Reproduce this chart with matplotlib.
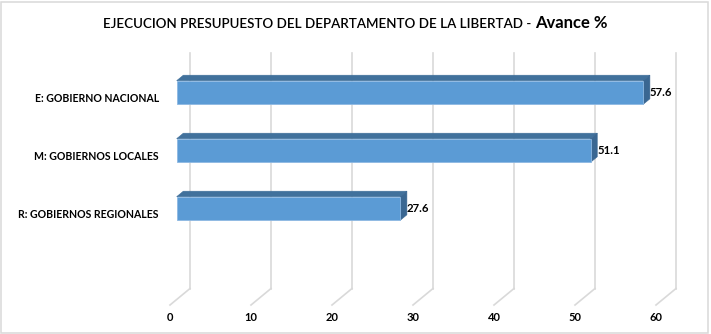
import matplotlib
matplotlib.use("Agg")
import matplotlib.pyplot as plt
from matplotlib.patches import Polygon, Rectangle

# ---- data ----
categories = ["R: GOBIERNOS REGIONALES", "M: GOBIERNOS LOCALES", "E: GOBIERNO NACIONAL"]
values = [27.6, 51.1, 57.6]
xticks = [0, 10, 20, 30, 40, 50, 60]
title_main = "EJECUCION PRESUPUESTO DEL DEPARTAMENTO DE LA LIBERTAD -"
title_bold = "Avance %"

plt.rcParams['font.family'] = ['Lato', 'DejaVu Sans']

W, H, DPI = 711, 334, 100
fig = plt.figure(figsize=(W / DPI, H / DPI), dpi=DPI)
fig.patch.set_facecolor("white")

# axes: x=0 at floor front-left, y range covers the floor-front to wall-top
ax_left, ax_bottom, ax_right, ax_top = 170, 29, 656, 265
ax = fig.add_axes([ax_left / W, ax_bottom / H, (ax_right - ax_left) / W, (ax_top - ax_bottom) / H])
ax.set_xlim(0, 60)
ylo, yhi = -1.569, 2.50
ax.set_ylim(ylo, yhi)
ax.set_facecolor("none")

px_x = (ax_right - ax_left) / 60.0
px_y = (ax_top - ax_bottom) / (yhi - ylo)
DX = 20.0 / px_x      # depth offset (data units)
DY = 16.5 / px_y
grid_c = "#D9D9D9"

# back-wall gridlines and floor diagonals
for t in xticks:
    ax.plot([t + DX, t + DX], [ylo + DY, yhi + DY], color=grid_c, lw=1.2, clip_on=False, zorder=1)
    ax.plot([t, t + DX], [ylo, ylo + DY], color=grid_c, lw=1.2, clip_on=False, zorder=1)

# 3D bars
h = 23.6 / px_y
front_c, top_c, side_c = "#5B9BD5", "#41719C", "#3A6792"
ypos = list(range(len(categories)))
for y, v in zip(ypos, values):
    d1x, d1y, d2x, d2y = DX / 3, DY / 3, 2 * DX / 3, 2 * DY / 3
    yb, yt = y - h / 2, y + h / 2
    ax.add_patch(Rectangle((d1x, yb + d1y), v, h, facecolor=front_c, edgecolor="#8DB8E2",
                           lw=0.6, clip_on=False, zorder=3))
    ax.add_patch(Polygon([(d1x, yt + d1y), (v + d1x, yt + d1y), (v + d2x, yt + d2y), (d2x, yt + d2y)],
                         closed=True, facecolor=top_c, edgecolor=top_c, lw=0.4, clip_on=False, zorder=2))
    ax.add_patch(Polygon([(v + d1x, yb + d1y), (v + d1x, yt + d1y), (v + d2x, yt + d2y), (v + d2x, yb + d2y)],
                         closed=True, facecolor=side_c, edgecolor=side_c, lw=0.4, clip_on=False, zorder=2))
    ax.text(v + d2x, y + d1y, f"{v}", ha="left", va="center", fontsize=8.2, fontweight="bold",
            color="#000000", zorder=4)

ax.set_yticks(ypos)
ax.set_yticklabels(categories, fontsize=7.6, fontweight="bold")
ax.set_xticks(xticks)
ax.set_xticklabels([str(t) for t in xticks], fontsize=8, fontweight="bold")
ax.tick_params(axis="y", length=0, pad=8)
ax.tick_params(axis="x", length=0, pad=5)
for s in ax.spines.values():
    s.set_visible(False)

# title
fig.text(531 / W, 306 / H, title_main, ha="right", va="baseline", fontsize=9.6,
         fontweight="semibold", color="#000000")
fig.text(535 / W, 306 / H, title_bold, ha="left", va="baseline", fontsize=12, fontweight="bold", color="#000000")

# chart border
fig.add_artist(Rectangle((1.5 / W, 1.5 / H), 706 / W, 331 / H, transform=fig.transFigure,
                         fill=False, edgecolor=grid_c, lw=1.1))

fig.savefig("out.png", dpi=DPI, facecolor="white")
